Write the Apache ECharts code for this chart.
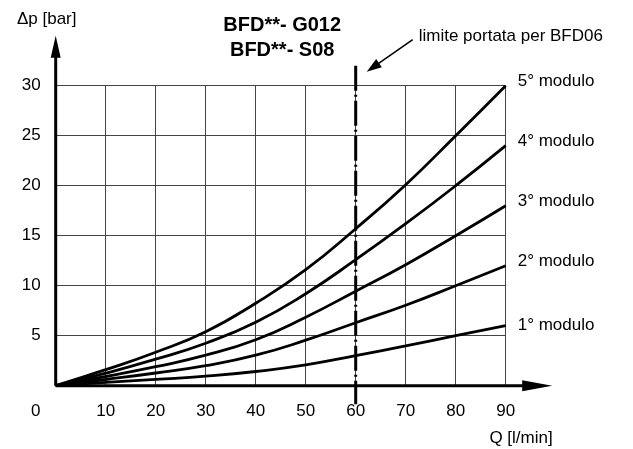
<!DOCTYPE html>
<html>
<head>
<meta charset="utf-8">
<script src="https://cdn.jsdelivr.net/npm/echarts@6/dist/echarts.min.js"></script>
<style>html,body{margin:0;padding:0;background:#fff}#c{width:633px;height:449px}</style>
</head>
<body>
<div id="c"></div>
<script>
var flowQ = [0, 10, 20, 30, 40, 50, 60, 70, 80, 90];
var modulo1 = [0, 0.33, 0.63, 0.95, 1.42, 2.08, 3.0, 3.98, 5.0, 6.0];
var modulo2 = [0, 0.62, 1.27, 2.0, 3.05, 4.55, 6.3, 8.05, 10, 12];
var modulo3 = [0, 0.92, 1.9, 3.05, 4.6, 6.85, 9.45, 12.1, 15, 18];
var modulo4 = [0, 1.25, 2.65, 4.25, 6.35, 9.2, 12.6, 16.2, 20, 24];
var modulo5 = [0, 1.6, 3.35, 5.4, 8.25, 11.6, 15.7, 20.1, 25, 30];
var seriesNames = ['1° modulo', '2° modulo', '3° modulo', '4° modulo', '5° modulo'];
var titleLines = ['BFD**- G012', 'BFD**- S08'];
var limitQ = 60;
var limitText = 'limite portata per BFD06';
var xTicks = [0, 10, 20, 30, 40, 50, 60, 70, 80, 90];
var yTicks = [5, 10, 15, 20, 25, 30];

var FONT = 'Liberation Sans, Arial, sans-serif';
var allData = [modulo1, modulo2, modulo3, modulo4, modulo5];
var labelOffsets = [[0, 0], [0, -4], [0, -4], [0, -4], [0, -4]];

var chart = echarts.init(document.getElementById('c'), null, {renderer: 'canvas'});

var series = allData.map(function (vals, i) {
  return {
    name: seriesNames[i],
    type: 'line',
    smooth: 0.5,
    symbol: 'none',
    data: flowQ.map(function (q, k) { return [q, vals[k]]; }),
    lineStyle: {color: '#000', width: 2.8},
    endLabel: {
      show: true,
      formatter: seriesNames[i],
      distance: 12,
      offset: labelOffsets[i],
      color: '#000',
      fontSize: 17,
      fontFamily: FONT
    },
    emphasis: {disabled: true},
    z: 3
  };
});

chart.setOption({
  animation: false,
  grid: {left: 55.7, right: 127.3, top: 85.7, bottom: 63.3},
  xAxis: {
    type: 'value', min: 0, max: 90, interval: 10,
    name: 'Q [l/min]', nameLocation: 'end', nameGap: 47,
    nameTextStyle: {color: '#000', fontSize: 17, fontFamily: FONT, align: 'right', verticalAlign: 'top', padding: [44, 0, 0, 0]},
    axisLine: {show: false},
    axisTick: {show: false},
    splitLine: {show: true, lineStyle: {color: '#444', width: 1}},
    axisLabel: {
      color: '#000', fontSize: 17, fontFamily: FONT, margin: 17,
      showMaxLabel: true, showMinLabel: true,
      formatter: function (v) { return v === 0 ? '{z|0}' : String(v); },
      rich: {z: {color: '#000', fontSize: 17, fontFamily: FONT, padding: [0, 40, 0, 0]}}
    }
  },
  yAxis: {
    type: 'value', min: 0, max: 30, interval: 5,
    name: 'Δp [bar]', nameLocation: 'end', nameGap: 58,
    nameTextStyle: {color: '#000', fontSize: 17, fontFamily: FONT, align: 'center', padding: [0, 18, 0, 0]},
    axisLine: {show: false},
    axisTick: {show: false},
    splitLine: {show: true, lineStyle: {color: '#444', width: 1}},
    axisLabel: {
      color: '#000', fontSize: 17, fontFamily: FONT, margin: 15,
      formatter: function (v) { return yTicks.indexOf(v) >= 0 ? String(v) : ''; }
    }
  },
  series: series
});

function px(p) { return chart.convertToPixel({gridIndex: 0}, p); }
var o = px([0, 0]);
var yTop = px([0, 35]);
var xEnd = px([99.3, 0]);
var lTop = px([limitQ, 32]);
var lBot = px([limitQ, -1.85]);
var aTail = px([71.4, 34.6]);
var aTip = px([62.2, 31.4]);
var titleC = px([45.3, 0]);

function arrowHead(tip, from, len, halfW) {
  var dx = tip[0] - from[0], dy = tip[1] - from[1];
  var d = Math.sqrt(dx * dx + dy * dy); dx /= d; dy /= d;
  var bx = tip[0] - dx * len, by = tip[1] - dy * len;
  return [[tip[0], tip[1]], [bx - dy * halfW, by + dx * halfW], [bx + dy * halfW, by - dx * halfW]];
}

chart.setOption({
  graphic: [
    {type: 'line', shape: {x1: o[0], y1: o[1], x2: yTop[0], y2: yTop[1] + 18}, style: {stroke: '#000', lineWidth: 3}, z: 10},
    {type: 'polygon', shape: {points: arrowHead(yTop, o, 22, 5)}, style: {fill: '#000'}, z: 10},
    {type: 'line', shape: {x1: o[0], y1: o[1], x2: xEnd[0] - 25, y2: xEnd[1]}, style: {stroke: '#000', lineWidth: 3}, z: 10},
    {type: 'polygon', shape: {points: arrowHead(xEnd, o, 30, 5.5)}, style: {fill: '#000'}, z: 10},
    {type: 'line', shape: {x1: lTop[0], y1: lTop[1], x2: lBot[0], y2: lBot[1]}, style: {stroke: '#000', lineWidth: 3, lineDash: [25, 4, 2, 4]}, z: 10},
    {type: 'line', shape: {x1: aTail[0], y1: aTail[1], x2: aTip[0] + 8, y2: aTip[1] - 5.5}, style: {stroke: '#000', lineWidth: 1.6}, z: 10},
    {type: 'polygon', shape: {points: arrowHead(aTip, aTail, 15, 5)}, style: {fill: '#000'}, z: 10},
    {type: 'text', x: aTail[0] + 6, y: aTail[1] - 3, style: {text: limitText, fill: '#000', fontSize: 17, fontFamily: FONT, textAlign: 'left', textVerticalAlign: 'middle'}, z: 10},
    {type: 'text', x: titleC[0], y: 25, style: {text: titleLines[0], fill: '#000', fontSize: 20, fontWeight: 'bold', fontFamily: FONT, textAlign: 'center', textVerticalAlign: 'middle'}, z: 10},
    {type: 'text', x: titleC[0], y: 50, style: {text: titleLines[1], fill: '#000', fontSize: 20, fontWeight: 'bold', fontFamily: FONT, textAlign: 'center', textVerticalAlign: 'middle'}, z: 10}
  ]
});
</script>
</body>
</html>
